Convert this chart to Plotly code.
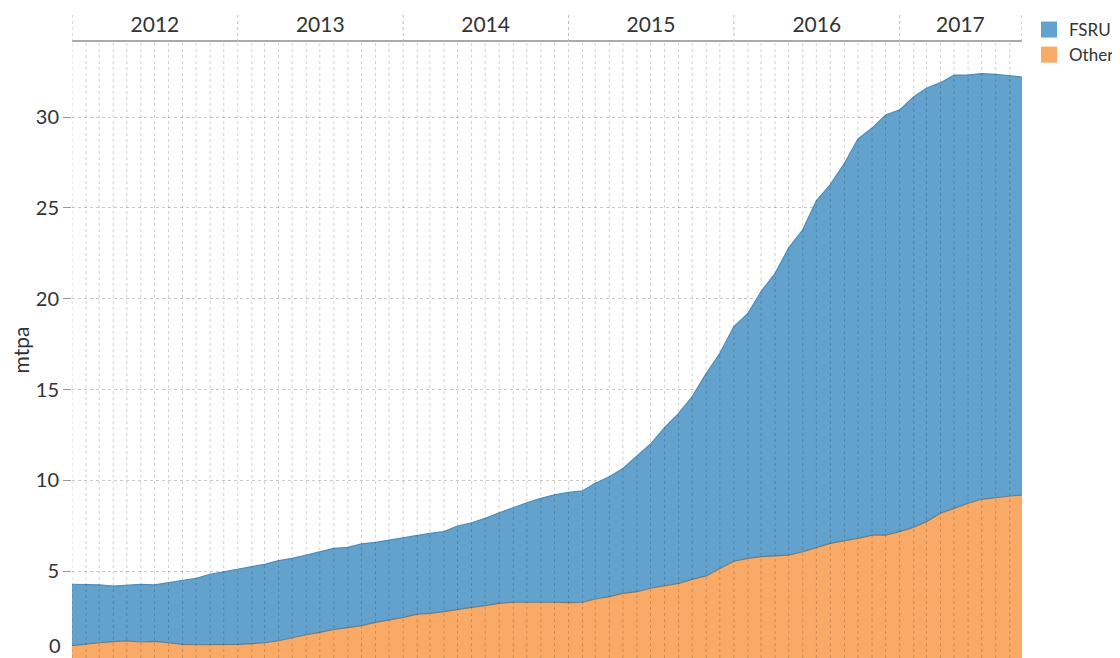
import pandas as pd
import plotly.graph_objects as go

# Monthly readings, Jan 2012 .. Oct 2017 (mtpa)
months = pd.date_range("2012-01-01", periods=70, freq="MS")

other = [0.90, 0.99, 1.06, 1.12, 1.16, 1.10, 1.14, 1.06, 0.97, 0.95, 0.95, 0.97,
         0.97, 1.01, 1.06, 1.17, 1.34, 1.50, 1.63, 1.80, 1.89, 2.00, 2.18, 2.31,
         2.46, 2.64, 2.68, 2.77, 2.90, 3.01, 3.10, 3.23, 3.29, 3.30, 3.29, 3.29,
         3.27, 3.29, 3.47, 3.60, 3.78, 3.87, 4.06, 4.20, 4.33, 4.55, 4.74, 5.15,
         5.55, 5.71, 5.80, 5.84, 5.89, 6.07, 6.31, 6.53, 6.68, 6.81, 6.99, 6.99,
         7.18, 7.42, 7.73, 8.19, 8.46, 8.74, 8.96, 9.07, 9.14, 9.20]

fsru = [3.38, 3.29, 3.19, 3.06, 3.06, 3.18, 3.11, 3.31, 3.49, 3.66, 3.88, 4.00,
        4.15, 4.24, 4.32, 4.41, 4.37, 4.39, 4.44, 4.46, 4.42, 4.50, 4.41, 4.41,
        4.38, 4.35, 4.40, 4.41, 4.59, 4.66, 4.81, 4.99, 5.23, 5.47, 5.72, 5.91,
        6.07, 6.14, 6.37, 6.60, 6.88, 7.47, 7.94, 8.70, 9.36, 10.06, 11.16, 11.85,
        12.92, 13.49, 14.60, 15.56, 16.91, 17.73, 19.09, 19.77, 20.78, 21.99, 22.41, 23.13,
        23.22, 23.71, 23.86, 23.71, 23.86, 23.58, 23.44, 23.29, 23.13, 23.00]

years = ["2012", "2013", "2014", "2015", "2016", "2017"]
year_label_pos = ["2012-07-02", "2013-07-02", "2014-07-02", "2015-07-02", "2016-07-02", "2017-05-15"]
y_ticks = [5, 10, 15, 20, 25, 30]

x_start = "2012-01-01"
x_end = "2017-09-28"

BLUE = "#62a2cc"
ORANGE = "#f8aa66"
FONT = "Lato"
TXT = "#333333"

fig = go.Figure()
fig.add_trace(go.Scatter(
    x=months, y=other, name="Other", stackgroup="one", mode="lines",
    line=dict(color="#6e7b80", width=1.2), fillcolor=ORANGE,
    showlegend=False, legendgroup="other",
))
fig.add_trace(go.Scatter(
    x=months, y=fsru, name="FSRU", stackgroup="one", mode="lines",
    line=dict(color="#4d8dbb", width=1.2), fillcolor=BLUE,
    showlegend=False, legendgroup="fsru",
))
# legend entries (square swatches)
fig.add_trace(go.Scatter(x=[None], y=[None], name="FSRU", mode="markers",
                         marker=dict(symbol="square", size=16, color=BLUE),
                         legendgroup="fsru", showlegend=True))
fig.add_trace(go.Scatter(x=[None], y=[None], name="Other", mode="markers",
                         marker=dict(symbol="square", size=16, color=ORANGE),
                         legendgroup="other", showlegend=True))

shapes = []
# monthly dotted separators over the areas
for m in pd.date_range(x_start, x_end, freq="MS"):
    shapes.append(dict(type="line", xref="x", yref="paper", x0=m, x1=m, y0=0, y1=1,
                       line=dict(color="rgba(0,0,0,0.18)", width=1, dash="dot"),
                       layer="above"))
# year separators in the header band
for d in list(pd.date_range(x_start, x_end, freq="YS")) + [pd.Timestamp(x_end)]:
    shapes.append(dict(type="line", xref="x", yref="paper", x0=d, x1=d, y0=1, y1=1.049,
                       line=dict(color="#bbbbbb", width=1, dash="dot"), layer="above"))

# page body has an 8px margin: figure is 1112x650 so it fills the 1120x658 window
fig.update_layout(
    width=1112, height=650,
    margin=dict(l=64, r=98, t=34, b=0, autoexpand=False),
    paper_bgcolor="white", plot_bgcolor="white",
    font=dict(family=FONT, color=TXT),
    showlegend=True,
    legend=dict(x=1.0074, y=1.0487, xanchor="left", yanchor="top",
                traceorder="normal", font=dict(size=17, color=TXT),
                itemwidth=30, tracegroupgap=0, bgcolor="rgba(0,0,0,0)",
                itemsizing="trace"),
    shapes=shapes,
    xaxis=dict(
        type="date", range=[x_start, x_end], side="top", automargin=False,
        tickmode="array", tickvals=year_label_pos, ticktext=years,
        ticks="", showgrid=False, zeroline=False,
        showline=True, linecolor="#aaaaaa", linewidth=2,
        tickfont=dict(size=21, color=TXT),
    ),
    yaxis=dict(
        range=[0.22, 34.14], tickmode="array", tickvals=y_ticks, automargin=True,
        ticks="outside", ticklen=8, tickcolor="#999999",
        showgrid=True, gridcolor="#c8c8c8", griddash="dot", gridwidth=1,
        zeroline=False, showline=False,
        tickfont=dict(size=20, color=TXT),
        title=dict(text="mtpa", font=dict(size=21, color=TXT), standoff=6),
    ),
    annotations=[dict(text="0", xref="paper", yref="paper", x=0, y=13 / 616,
                      xanchor="right", yanchor="middle", xshift=-9, showarrow=False,
                      font=dict(size=20, color=TXT, family=FONT))],
)

fig.write_html("out.html")
